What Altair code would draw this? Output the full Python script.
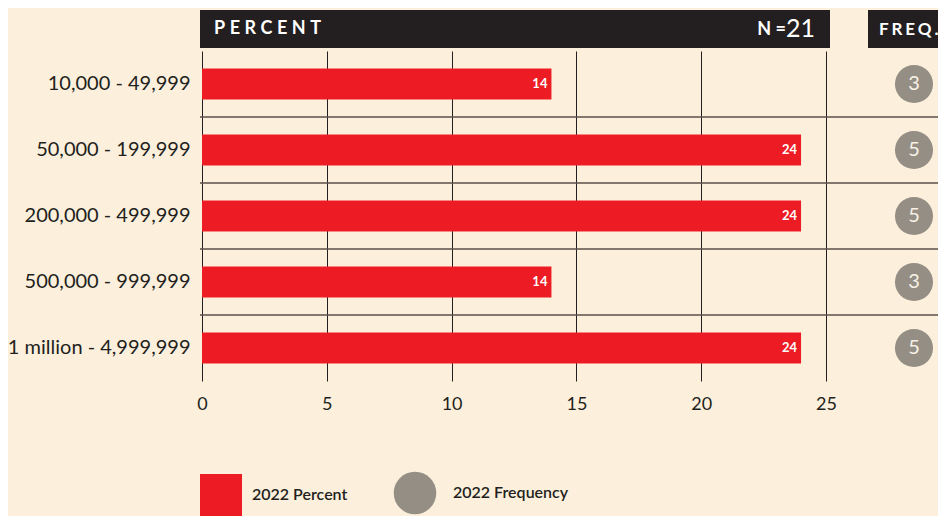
import altair as alt
import pandas as pd

categories = ["10,000 - 49,999", "50,000 - 199,999", "200,000 - 499,999",
              "500,000 - 999,999", "1 million - 4,999,999"]
percent = [14, 24, 24, 14, 24]
frequency = [3, 5, 5, 3, 5]
x_ticks = [0, 5, 10, 15, 20, 25]
SP = "\u2005"
header_left = SP.join("PERCENT")
header_n_label = "N" + SP + "=" + SP
header_n_value = "21"
header_freq = "\u2006".join("FREQ.")
legend_labels = ["2022 Percent", "2022 Frequency"]

RED = "#ED1C24"
GREY = "#958E84"
DARK = "#231F20"
BG = "#FCF0DC"
FONT = "Lato"

df = pd.DataFrame({"cat": categories, "pct": percent, "freq": frequency})
sep = df.iloc[1:].copy()
one = pd.DataFrame({"a": [0]})

Y = lambda **kw: alt.Y("cat:N", sort=categories, **kw)

bars = alt.Chart(df).mark_bar(color=RED, size=31).encode(
    x=alt.X("pct:Q", scale=alt.Scale(domain=[0, 25], nice=False),
            axis=alt.Axis(values=x_ticks, grid=True, gridColor=DARK, gridWidth=1,
                          gridOpacity=1, domain=False, ticks=False, labelFontSize=18,
                          labelPadding=14, labelColor=DARK, labelFont=FONT, title=None,
                          labelFlush=False)),
    y=Y(scale=alt.Scale(paddingInner=0, paddingOuter=0),
        axis=alt.Axis(domain=False, ticks=False, labelFontSize=20, labelPadding=12,
                      labelColor=DARK, labelFont=FONT, title=None, labelLimit=0)),
)

bar_text = alt.Chart(df).mark_text(align="right", dx=-4, color="white", fontSize=13,
                                   fontWeight="bold", font=FONT).encode(
    x="pct:Q", y=Y(), text="pct:Q")

separators = alt.Chart(sep).mark_rule(color="#5A5048", strokeWidth=1.5).encode(
    y=Y(bandPosition=0), x=alt.value(-2), x2=alt.value(760))

hdr1 = alt.Chart(one).mark_rect(color=DARK).encode(
    x=alt.value(-2), x2=alt.value(628), y=alt.value(-41), y2=alt.value(-3))
hdr2 = alt.Chart(one).mark_rect(color=DARK).encode(
    x=alt.value(666), x2=alt.value(760), y=alt.value(-41), y2=alt.value(-3))
hdr_txt1 = alt.Chart(one).mark_text(align="left", baseline="middle", color="white",
                                    fontSize=18, fontWeight="bold", font=FONT).encode(
    x=alt.value(12), y=alt.value(-22), text=alt.value(header_left))
hdr_txt2 = alt.Chart(one).mark_text(align="right", baseline="middle", color="white",
                                    fontSize=18, fontWeight="bold", font=FONT).encode(
    x=alt.value(584), y=alt.value(-21), text=alt.value(header_n_label))
hdr_txt3 = alt.Chart(one).mark_text(align="right", baseline="middle", color="white",
                                    fontSize=25, font=FONT).encode(
    x=alt.value(613), y=alt.value(-22), text=alt.value(header_n_value))
hdr_txt4 = alt.Chart(one).mark_text(align="left", baseline="middle", color="white",
                                    fontSize=17, fontWeight="bold", font=FONT).encode(
    x=alt.value(677), y=alt.value(-21), text=alt.value(header_freq))

circles = alt.Chart(df).mark_circle(color=GREY, size=1450, opacity=1).encode(
    x=alt.value(712), y=Y())
circle_text = alt.Chart(df).mark_text(color="#F7F1E6", fontSize=20, font=FONT,
                                      baseline="middle").encode(
    x=alt.value(712), y=Y(), text="freq:Q")

leg_sq = alt.Chart(one).mark_square(color=RED, size=1764, opacity=1).encode(
    x=alt.value(19), y=alt.value(444))
leg_circ = alt.Chart(one).mark_circle(color=GREY, size=1810, opacity=1).encode(
    x=alt.value(213), y=alt.value(442))
leg_t1 = alt.Chart(one).mark_text(align="left", baseline="middle", color=DARK, fontSize=16,
                                  fontWeight=600, font=FONT).encode(
    x=alt.value(50), y=alt.value(444), text=alt.value(legend_labels[0]))
leg_t2 = alt.Chart(one).mark_text(align="left", baseline="middle", color=DARK, fontSize=16,
                                  fontWeight=600, font=FONT).encode(
    x=alt.value(251), y=alt.value(442), text=alt.value(legend_labels[1]))

chart = alt.layer(
    bars, bar_text, separators, hdr1, hdr2, hdr_txt1, hdr_txt2, hdr_txt3, hdr_txt4,
    circles, circle_text, leg_sq, leg_circ, leg_t1, leg_t2
).properties(
    width=624, height=330,
    autosize=alt.AutoSizeParams(type="none"),
    padding={"left": 194, "top": 43, "right": 112, "bottom": 135},
).configure(background=BG).configure_view(stroke=None)

chart.save("out.html", embed_options={"renderer": "svg", "actions": False})
